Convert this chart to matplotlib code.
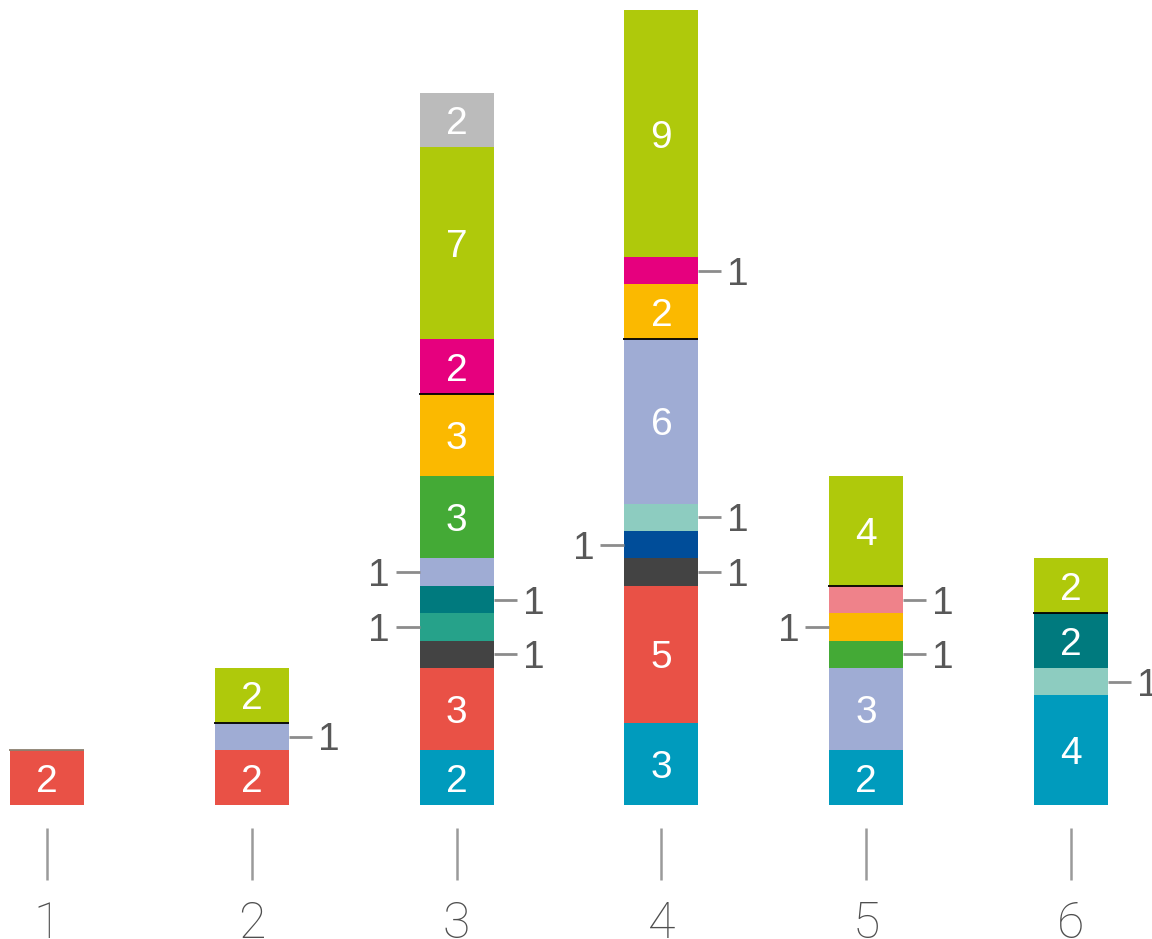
import matplotlib.pyplot as plt
import numpy as np

# categories on the x axis
categories = ['1', '2', '3', '4', '5', '6']

# stacked series, bottom to top
series = ['blue', 'red', 'darkgray', 'navy', 'tealgreen', 'lightteal', 'darkteal',
          'lavender', 'green', 'orange', 'pink', 'magenta', 'lime', 'gray']
blue      = [0, 0, 2, 3, 2, 4]
red       = [2, 2, 3, 5, 0, 0]
darkgray  = [0, 0, 1, 1, 0, 0]
navy      = [0, 0, 0, 1, 0, 0]
tealgreen = [0, 0, 1, 0, 0, 0]
lightteal = [0, 0, 0, 1, 0, 1]
darkteal  = [0, 0, 1, 0, 0, 2]
lavender  = [0, 1, 1, 6, 3, 0]
green     = [0, 0, 3, 0, 1, 0]
orange    = [0, 0, 3, 2, 1, 0]
pink      = [0, 0, 0, 0, 1, 0]
magenta   = [0, 0, 2, 1, 0, 0]
lime      = [0, 2, 7, 9, 4, 2]
gray      = [0, 0, 2, 0, 0, 0]

values = [blue, red, darkgray, navy, tealgreen, lightteal, darkteal,
          lavender, green, orange, pink, magenta, lime, gray]

colors = {'blue': '#009bbd', 'red': '#e95146', 'darkgray': '#434343', 'navy': '#004d99',
          'tealgreen': '#26a28a', 'lightteal': '#8dccc0', 'darkteal': '#007a7e',
          'lavender': '#9facd4', 'green': '#44aa36', 'orange': '#fbb900',
          'pink': '#ef828a', 'magenta': '#e6007e', 'lime': '#afc90b', 'gray': '#bbbbbb'}

# thin separator drawn at the bottom of this series in each bar
sep_series = ['lime', 'lime', 'magenta', 'orange', 'lime', 'lime']
sep_colors = ['#8b8070', 'black', 'black', 'black', 'black', 'black']

VAL_FONT = 'Liberation Sans'
AX_FONT = 'Roboto'
txt_gray = '#585858'
line_gray = '#8c8c8c'
unit = 27.4      # pixels per unit on y

fig = plt.figure(figsize=(11.52, 9.39), dpi=100)
ax = fig.add_axes([0, 0, 1, 1])
x = np.arange(1, len(categories) + 1)
w = 0.361
px = 1 / 204.8   # one pixel in x data units

bottoms = np.zeros(len(categories))
cum = {}
for name, vals in zip(series, values):
    vals = np.array(vals, dtype=float)
    cum[name] = bottoms.copy()
    ax.bar(x, vals, w, bottom=bottoms, color=colors[name], linewidth=0)
    bottoms = bottoms + vals

# value labels
for i in range(len(categories)):
    side = None
    b = 0
    for name, vals in zip(series, values):
        v = vals[i]
        if v == 0:
            continue
        yc = b + v / 2
        if v >= 2:
            ax.text(x[i], yc, str(v), ha='center', va='center_baseline', color='white',
                    fontsize=28, family=VAL_FONT)
            side = None
        else:
            side = 'left' if side == 'right' else 'right'
            if side == 'right':
                x0 = x[i] + w / 2
                ax.plot([x0, x0 + 23 * px], [yc, yc], color=line_gray, lw=2,
                        solid_capstyle='butt')
                ax.text(x0 + 29 * px, yc, str(v), ha='left', va='center_baseline',
                        color=txt_gray, fontsize=28, family=VAL_FONT)
            else:
                x0 = x[i] - w / 2
                ax.plot([x0, x0 - 24 * px], [yc, yc], color=line_gray, lw=2,
                        solid_capstyle='butt')
                ax.text(x0 - 30 * px, yc, str(v), ha='right', va='center_baseline',
                        color=txt_gray, fontsize=28, family=VAL_FONT)
        b += v

# separators
for i in range(len(categories)):
    yb = cum[sep_series[i]][i]
    ax.plot([x[i] - w / 2 - 1 * px, x[i] + w / 2], [yb, yb], color=sep_colors[i],
            lw=1.3, solid_capstyle='butt')

# x axis ticks and labels
ax.vlines(x, -23 / unit, -75 / unit, color='#9a9a9a', lw=1.8)
for i, c in enumerate(categories):
    ax.text(x[i], -114 / unit, c, ha='center', va='center_baseline', color='#4f4f4f',
            fontsize=36, family=AX_FONT, fontweight='light')

ax.set_xlim(1 - 47 * px, 1 + 1105 * px)
ax.set_ylim(-134 / unit, 805 / unit)
ax.axis('off')

plt.savefig('out.png', dpi=100)
